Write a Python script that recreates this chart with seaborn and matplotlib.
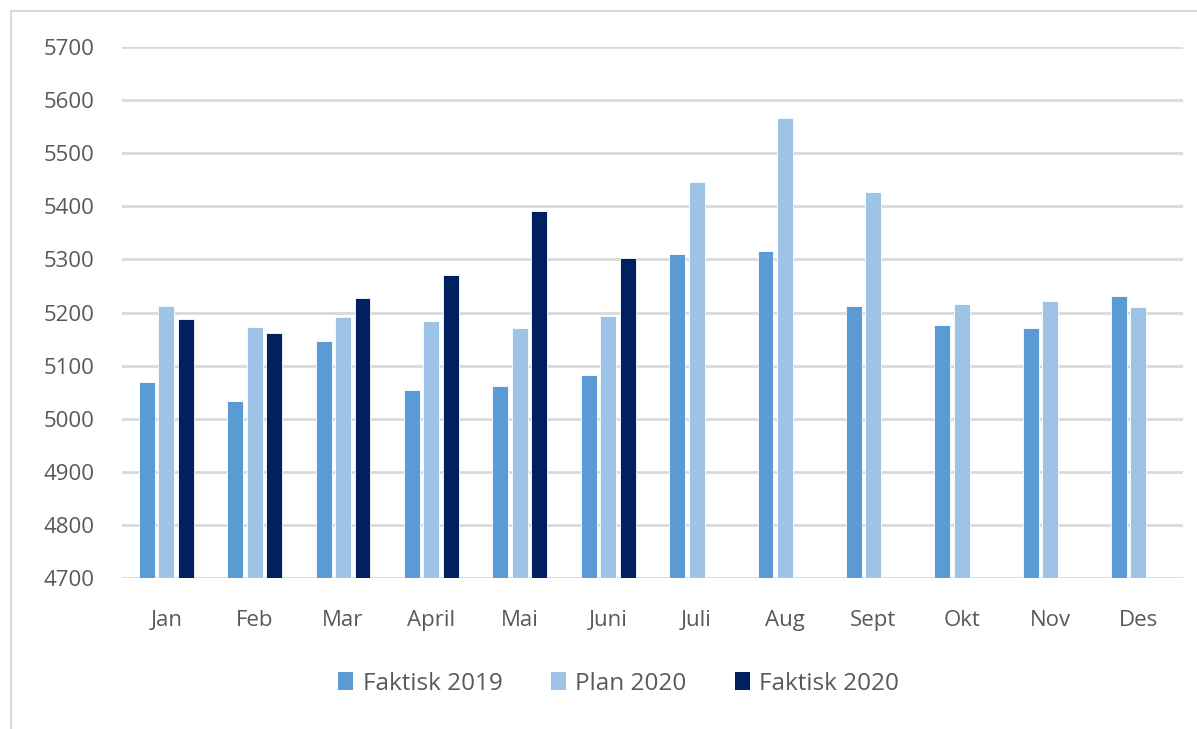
import pandas as pd
import numpy as np
import seaborn as sns
import matplotlib.pyplot as plt
from matplotlib.patches import Rectangle, Patch

months = ["Jan", "Feb", "Mar", "April", "Mai", "Juni", "Juli", "Aug", "Sept", "Okt", "Nov", "Des"]
faktisk_2019 = [5070, 5034, 5146, 5055, 5061, 5082, 5310, 5315, 5212, 5176, 5170, 5231]
plan_2020 = [5212, 5173, 5191, 5185, 5170, 5194, 5445, 5566, 5427, 5216, 5221, 5210]
faktisk_2020 = [5188, 5161, 5227, 5270, 5391, 5302]
series = ["Faktisk 2019", "Plan 2020", "Faktisk 2020"]
colors = ["#5B9BD5", "#9DC3E6", "#002060"]


def build_frame():
    rows = []
    for name, vals in zip(series, [faktisk_2019, plan_2020, faktisk_2020]):
        for m, v in zip(months, vals):
            rows.append({"Maned": m, "Serie": name, "Verdi": v})
    return pd.DataFrame(rows)


df = build_frame()

sns.set_theme(style="white")
plt.rcParams['font.family'] = ['Open Sans', 'DejaVu Sans']

fig = plt.figure(figsize=(11.97, 7.29), dpi=100)
ax = fig.add_axes([0.102, 0.207, 0.886, 0.7285])

sns.barplot(data=df, x="Maned", y="Verdi", hue="Serie", order=months, hue_order=series,
            palette=colors, width=0.66, gap=0.18, saturation=1, legend=False,
            edgecolor="white", linewidth=0.6, ax=ax, zorder=3)

ax.set_ylim(4700, 5700)
ax.set_xlim(-0.5, 11.5)
ax.set_yticks(np.arange(4700, 5701, 100))
ax.yaxis.grid(True, color="#D9D9D9", linewidth=2, zorder=0)
ax.set_axisbelow(True)
for s in ax.spines.values():
    s.set_visible(False)
ax.set_xlabel("")
ax.set_ylabel("")
ax.tick_params(axis="both", length=0, labelsize=16, labelcolor="#595959")
ax.tick_params(axis="x", pad=23)
ax.tick_params(axis="y", pad=20)

handles = [Patch(facecolor=c, edgecolor="none") for c in colors]
fig.legend(handles, series, loc="center", bbox_to_anchor=(0.517, 0.062), ncol=3, frameon=False,
           fontsize=17.5, labelcolor="#595959", handlelength=0.6, handleheight=0.75,
           handletextpad=0.4, columnspacing=2.0)

fig.patches.append(Rectangle((0.009, -0.01), 1.2, 0.995, transform=fig.transFigure,
                             fill=False, edgecolor="#D9D9D9", linewidth=1.5))

fig.savefig("out.png", dpi=100)
